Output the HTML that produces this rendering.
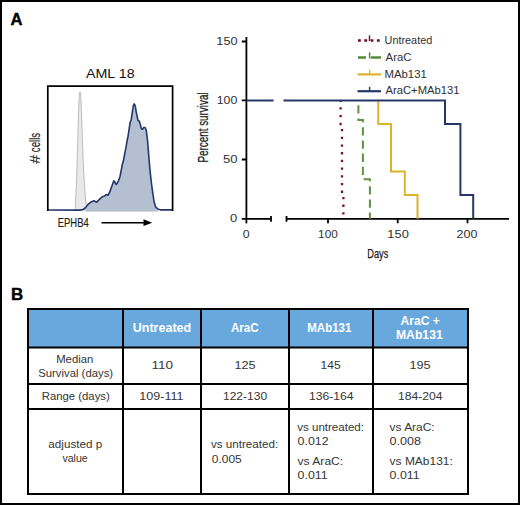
<!DOCTYPE html>
<html><head><meta charset="utf-8">
<style>
html,body{margin:0;padding:0;background:#fff;}
body{width:520px;height:505px;overflow:hidden;position:relative;font-family:"Liberation Sans",sans-serif;}
svg{position:absolute;left:0;top:0;}
svg text{font-family:"Liberation Sans",sans-serif;}
</style></head><body>
<svg width="520" height="505" viewBox="0 0 520 505">
<rect x="1" y="1" width="518" height="503" fill="none" stroke="#000" stroke-width="2"/>

<!-- ===== Histogram ===== -->
<path d="M75.2,210 L76.6,180 L77.8,140 L78.6,110 L79.4,94 L80,91.8 L80.6,94 L81.4,110 L82.4,140 L83.8,175 L85.5,200 L87.2,210 Z" fill="#e9e9e9" stroke="#bdbdbd" stroke-width="1"/>
<path d="M48,210 L80.2,210.1 L83,209.5 L85.2,207.9 L88.4,204.1 L91.1,201.9 L93.9,200.8 L96.6,202.3 L99.9,198.9 L102.2,196.8 L104.5,196.1 L106.2,194.6 L108.2,195.2 L110.1,191.2 L111.9,186 L113.8,180.8 L114.8,182.3 L116.3,184.5 L118.5,180.8 L120,176.4 L121.5,168.9 L122.3,164.5 L123.4,160.8 L124.5,154.8 L126,147.4 L127.2,140 L128,136.4 L130.2,122.2 L131.2,120 L132.3,112.4 L133.4,105.3 L134.2,103.9 L135.3,105.9 L136.1,111.3 L137.2,116.8 L138.1,120.6 L139.2,120.9 L140.3,124.4 L141.4,128.8 L142.5,129.3 L143.8,127.5 L145.1,127.5 L146.2,129.9 L147,136.4 L147.5,140 L148.2,148.9 L149.3,162.3 L150.4,174.1 L151.6,184.5 L152.8,193.4 L154.2,202.3 L155.6,206.8 L157.9,209 L160.8,209.9 L172,209.9" fill="#b4bfd2" stroke="#243868" stroke-width="1.6" stroke-linejoin="round"/>
<path d="M86,210.9 H158" stroke="#8e96a6" stroke-width="1"/>
<path d="M47.8,211 V86.2 H172.6 V211" fill="none" stroke="#000" stroke-width="1.7"/>
<line x1="101.5" y1="222.7" x2="146" y2="222.7" stroke="#000" stroke-width="1.5"/>
<path d="M143.5,219.3 L152.2,222.7 L143.5,226.1 Z" fill="#000"/>

<!-- ===== Survival chart ===== -->
<g stroke="#000" stroke-width="1.8" fill="none">
<path d="M246.4,37 V223.4"/>
<path d="M241.8,41.5 H246.4 M241.8,100.4 H246.4 M241.8,159.5 H246.4"/>
<path d="M241.8,218.8 H271 M271,215.9 V221.7"/>
<path d="M286.5,218.8 H509 M286.5,215.9 V221.7"/>
<path d="M328,218.8 V223.2 M397.7,218.8 V223.2 M467.5,218.8 V223.2"/>
</g>

<!-- data -->
<path d="M340.6,100.4 V124 H342 V195 H343.4 V218.8" fill="none" stroke="#7e1034" stroke-width="2.3" stroke-dasharray="2.3 5.4" stroke-dashoffset="0.8"/>
<path d="M358.4,100.4 V120 H362.9 V179.3 H369.9 V218.8" fill="none" stroke="#5e9340" stroke-width="2" stroke-dasharray="8.3 4.9" stroke-dashoffset="8.3"/>
<path d="M378.3,100.4 V124 H391 V171.4 H404.8 V195 H417.5 V218.8" fill="none" stroke="#dcb42a" stroke-width="2"/>
<path d="M246.4,100.4 H273.6 M283.5,100.4 H445 V124 H460.4 V195 H473.2 V218.8" fill="none" stroke="#26386a" stroke-width="2"/>

<!-- legend -->
<path d="M358,40.5 H381" stroke="#6e0c2c" stroke-width="2.6" stroke-dasharray="2.8 3.5"/>
<path d="M369.5,35.4 V41" stroke="#6e0c2c" stroke-width="1.4"/>
<path d="M358,57.5 H366 M370.8,57.5 H381" stroke="#57893a" stroke-width="2.4"/>
<path d="M369.6,52.3 V58.5" stroke="#57893a" stroke-width="1.5"/>
<path d="M357.5,74.4 H381" stroke="#dcb42a" stroke-width="2.2"/>
<path d="M369.6,69.8 V74.4" stroke="#dcb42a" stroke-width="1.4"/>
<path d="M357.5,91.2 H381" stroke="#26386a" stroke-width="2.2"/>
<path d="M369.6,86.8 V91.2" stroke="#26386a" stroke-width="1.4"/>

<!-- ===== Table ===== -->
<rect x="28" y="309" width="440" height="38.5" fill="#69a8dc"/>
<g stroke="#000" stroke-width="2" fill="none">
<rect x="28" y="309" width="440" height="185"/>
<path d="M28,347.5 H468 M28,384 H468 M28,409 H468"/>
<path d="M123,309 V494 M201,309 V494 M289,309 V494 M373,309 V494"/>
</g>

<text id="t_A" x="10.61" textLength="11.97" lengthAdjust="spacingAndGlyphs" y="25.1" font-size="17" font-weight="bold" fill="#000" stroke="#000" stroke-width="0.4">A</text>
<text id="t_B" x="11.00" textLength="12.28" lengthAdjust="spacingAndGlyphs" y="299.5" font-size="17" font-weight="bold" fill="#000" stroke="#000" stroke-width="0.4">B</text>
<text id="t_aml" x="86.00" textLength="48.57" lengthAdjust="spacingAndGlyphs" y="77.6" font-size="13.3" fill="#111">AML 18</text>
<text id="t_ephb4" x="57.78" textLength="30.95" lengthAdjust="spacingAndGlyphs" y="227.4" font-size="13.4" fill="#1a1a1a" stroke="#1a1a1a" stroke-width="0.2">EPHB4</text>
<text id="t_days" x="367.31" textLength="21.05" lengthAdjust="spacingAndGlyphs" y="257.9" font-size="13.4" fill="#1a1a1a" stroke="#1a1a1a" stroke-width="0.25">Days</text>
<text id="t_hash" transform="translate(39.6,163.85) rotate(-90)" x="0" y="0" textLength="8.80" lengthAdjust="spacingAndGlyphs" font-size="14" fill="#2a2a2a" stroke="#2a2a2a" stroke-width="0.1">#</text>
<text id="t_cells" transform="translate(39.6,152.18) rotate(-90)" x="0" y="0" textLength="19.30" lengthAdjust="spacingAndGlyphs" font-size="14" fill="#2a2a2a" stroke="#2a2a2a" stroke-width="0.15">cells</text>
<text id="t_pct" transform="translate(207.8,162.53) rotate(-90)" x="0" y="0" textLength="70.12" lengthAdjust="spacingAndGlyphs" font-size="14" fill="#1a1a1a" stroke="#1a1a1a" stroke-width="0.25">Percent survival</text>
<text id="t_y150" x="216.39" textLength="21.17" lengthAdjust="spacingAndGlyphs" y="44.9" font-size="10.8" fill="#303030">150</text>
<text id="t_y100" x="216.72" textLength="20.56" lengthAdjust="spacingAndGlyphs" y="104.1" font-size="10.8" fill="#303030">100</text>
<text id="t_y50" x="222.90" textLength="14.53" lengthAdjust="spacingAndGlyphs" y="163.2" font-size="10.8" fill="#303030">50</text>
<text id="t_y0" x="230.12" textLength="7.22" lengthAdjust="spacingAndGlyphs" y="222.2" font-size="10.8" fill="#303030">0</text>
<text id="t_x0" x="242.72" textLength="6.86" lengthAdjust="spacingAndGlyphs" y="238" font-size="10.8" fill="#303030">0</text>
<text id="t_x100" x="318.12" textLength="19.61" lengthAdjust="spacingAndGlyphs" y="238" font-size="10.8" fill="#303030">100</text>
<text id="t_x150" x="387.38" textLength="21.39" lengthAdjust="spacingAndGlyphs" y="238" font-size="10.8" fill="#303030">150</text>
<text id="t_x200" x="456.63" textLength="20.88" lengthAdjust="spacingAndGlyphs" y="238" font-size="10.8" fill="#303030">200</text>
<text id="t_l1" x="384.57" textLength="47.67" lengthAdjust="spacingAndGlyphs" y="44" font-size="10.6" fill="#303030">Untreated</text>
<text id="t_l2" x="385.59" textLength="25.82" lengthAdjust="spacingAndGlyphs" y="60.8" font-size="10.6" fill="#303030">AraC</text>
<text id="t_l3" x="384.51" textLength="42.27" lengthAdjust="spacingAndGlyphs" y="77.5" font-size="10.6" fill="#303030">MAb131</text>
<text id="t_l4" x="385.59" textLength="73.83" lengthAdjust="spacingAndGlyphs" y="94" font-size="10.6" fill="#303030">AraC+MAb131</text>
<text id="t_h1" x="132.75" textLength="58.40" lengthAdjust="spacingAndGlyphs" y="331.6" font-size="12" font-weight="bold" fill="#fff">Untreated</text>
<text id="t_h2" x="231.02" textLength="27.66" lengthAdjust="spacingAndGlyphs" y="331.5" font-size="12" font-weight="bold" fill="#fff">AraC</text>
<text id="t_h3" x="307.24" textLength="44.17" lengthAdjust="spacingAndGlyphs" y="331.7" font-size="12" font-weight="bold" fill="#fff">MAb131</text>
<text id="t_h4a" x="400.60" textLength="39.24" lengthAdjust="spacingAndGlyphs" y="324.6" font-size="12" font-weight="bold" fill="#fff">AraC +</text>
<text id="t_h4b" x="395.98" textLength="46.73" lengthAdjust="spacingAndGlyphs" y="338.5" font-size="12" font-weight="bold" fill="#fff">MAb131</text>
<text id="t_r1a" x="56.20" textLength="37.11" lengthAdjust="spacingAndGlyphs" y="362.8" font-size="11.2" fill="#353535">Median</text>
<text id="t_r1b" x="38.19" textLength="74.91" lengthAdjust="spacingAndGlyphs" y="376.6" font-size="11.2" fill="#353535">Survival (days)</text>
<text id="t_r2" x="41.79" textLength="67.99" lengthAdjust="spacingAndGlyphs" y="399.8" font-size="11.2" fill="#353535">Range (days)</text>
<text id="t_r3a" x="48.39" textLength="53.87" lengthAdjust="spacingAndGlyphs" y="448.2" font-size="11.2" fill="#353535">adjusted p</text>
<text id="t_r3b" x="62.39" textLength="25.36" lengthAdjust="spacingAndGlyphs" y="462.3" font-size="11.2" fill="#353535">value</text>
<text id="t_m1" x="151.57" textLength="21.52" lengthAdjust="spacingAndGlyphs" y="369.4" font-size="11.2" fill="#353535">110</text>
<text id="t_m2" x="234.44" textLength="21.20" lengthAdjust="spacingAndGlyphs" y="369.4" font-size="11.2" fill="#353535">125</text>
<text id="t_m3" x="320.55" textLength="20.02" lengthAdjust="spacingAndGlyphs" y="369.4" font-size="11.2" fill="#353535">145</text>
<text id="t_m4" x="409.44" textLength="21.20" lengthAdjust="spacingAndGlyphs" y="369.4" font-size="11.2" fill="#353535">195</text>
<text id="t_g1" x="139.30" textLength="44.28" lengthAdjust="spacingAndGlyphs" y="399.8" font-size="11.2" fill="#353535">109-111</text>
<text id="t_g2" x="222.96" textLength="44.14" lengthAdjust="spacingAndGlyphs" y="399.8" font-size="11.2" fill="#353535">122-130</text>
<text id="t_g3" x="308.96" textLength="44.66" lengthAdjust="spacingAndGlyphs" y="399.8" font-size="11.2" fill="#353535">136-164</text>
<text id="t_g4" x="397.96" textLength="44.66" lengthAdjust="spacingAndGlyphs" y="399.8" font-size="11.2" fill="#353535">184-204</text>
<text id="t_p1a" x="210.98" textLength="67.25" lengthAdjust="spacingAndGlyphs" y="448.1" font-size="11.2" fill="#353535">vs untreated:</text>
<text id="t_p1b" x="211.79" textLength="30.00" lengthAdjust="spacingAndGlyphs" y="462.6" font-size="11.2" fill="#353535">0.005</text>
<text id="t_p2a" x="297.19" textLength="66.81" lengthAdjust="spacingAndGlyphs" y="430.6" font-size="11.2" fill="#353535">vs untreated:</text>
<text id="t_p2b" x="297.58" textLength="31.01" lengthAdjust="spacingAndGlyphs" y="445.4" font-size="11.2" fill="#353535">0.012</text>
<text id="t_p2c" x="297.58" textLength="45.58" lengthAdjust="spacingAndGlyphs" y="464.6" font-size="11.2" fill="#353535">vs AraC:</text>
<text id="t_p2d" x="297.58" textLength="30.10" lengthAdjust="spacingAndGlyphs" y="479.2" font-size="11.2" fill="#353535">0.011</text>
<text id="t_p3a" x="389.59" textLength="45.07" lengthAdjust="spacingAndGlyphs" y="430.6" font-size="11.2" fill="#353535">vs AraC:</text>
<text id="t_p3b" x="389.57" textLength="31.53" lengthAdjust="spacingAndGlyphs" y="445.4" font-size="11.2" fill="#353535">0.008</text>
<text id="t_p3c" x="389.59" textLength="63.25" lengthAdjust="spacingAndGlyphs" y="464.6" font-size="11.2" fill="#353535">vs MAb131:</text>
<text id="t_p3d" x="389.58" textLength="30.10" lengthAdjust="spacingAndGlyphs" y="479.2" font-size="11.2" fill="#353535">0.011</text>
</svg>
</body></html>
